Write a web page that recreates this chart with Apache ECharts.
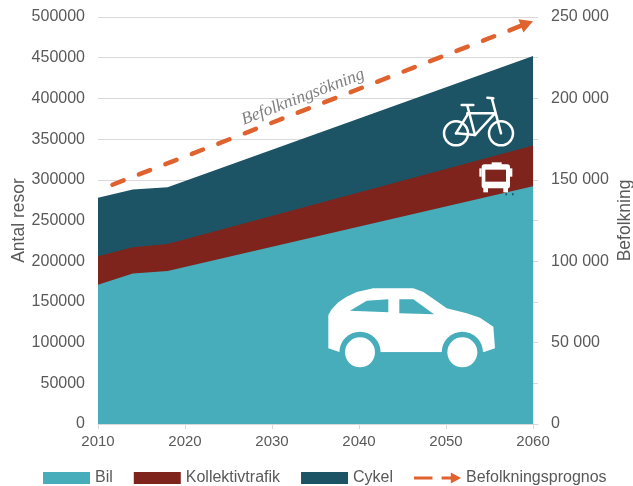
<!DOCTYPE html>
<html><head><meta charset="utf-8">
<script src="https://cdn.jsdelivr.net/npm/echarts@6/dist/echarts.min.js"></script>
<style>html,body{margin:0;padding:0;background:#fff}#c{width:633px;height:486px}</style>
</head><body><div id="c"></div>
<script>
const tickYears = [2010, 2020, 2030, 2040, 2050, 2060];
const years = [2010, 2014, 2018, 2060];
const bil = [171000, 185000, 188000, 292000];
const kollektivtrafik = [35000, 32000, 33000, 50000];
const cykel = [72000, 71000, 70000, 110000];
const popYears = [2010, 2059.3];
const befolkning = [143500, 246000];

const font = '"Liberation Sans", Arial, sans-serif';
const txt = '#595959', grid = '#d9d9d9';
const teal = '#48adbb', red = '#7f241c', dark = '#1d5465', orange = '#e0632f';
const pairs = (xs, ys) => xs.map((x, i) => [x, ys[i]]);
const add = (a, b) => a.map((v, i) => v + b[i]);

// stacked tops, drawn back to front
const topBil = bil;
const topKoll = add(topBil, kollektivtrafik);
const topCykel = add(topKoll, cykel);

function area(name, vals, color, z) {
  return { name, type: 'line', data: pairs(years, vals), symbol: 'none', z,
    lineStyle: { width: 0 }, areaStyle: { color, opacity: 1 }, itemStyle: { color } };
}
const w = { fill: '#fff' };
const bikeStroke = { stroke: '#fff', lineWidth: 7.5, fill: null, lineCap: 'round' };
const Z = 20;
const el = (type, shape, style) => ({ type, shape, style, z: Z });
const seg = pts => el('polyline', { points: pts }, bikeStroke);
const circle = (cx, cy, r, style) => el('circle', { cx, cy, r }, style);
const box = (x, y, width, height, style, r) => el('rect', { x, y, width, height, r: r || 0 }, style);
const poly = (points, style) => el('polygon', { points }, style);

const chart = echarts.init(document.getElementById('c'), null, { renderer: 'canvas' });
chart.setOption({
  animation: false,
  backgroundColor: '#fff',
  grid: { left: 98, right: 95, top: 17, bottom: 62, outerBoundsMode: 'none' },
  legend: {
    bottom: -5, left: 38, itemWidth: 47, itemHeight: 12, itemGap: 21,
    textStyle: { color: txt, fontFamily: font, fontSize: 16 },
    data: [{ name: 'Bil', icon: 'rect' }, { name: 'Kollektivtrafik', icon: 'rect' }, { name: 'Cykel', icon: 'rect' },
      { name: 'Befolkningsprognos', icon: 'path://M0 4.5H18V7.5H0ZM27 4.5H36V0.5L46 6L36 11.5V7.5H27Z', itemStyle: { color: orange } }]
  },
  xAxis: {
    type: 'value', min: 2010, max: 2060.57, splitLine: { show: false },
    axisLine: { lineStyle: { color: grid } },
    axisTick: { length: 5, lineStyle: { color: grid }, customValues: tickYears },
    axisLabel: { color: txt, fontFamily: font, fontSize: 15, margin: 10, customValues: tickYears, formatter: v => String(v) }
  },
  yAxis: [
    { type: 'value', min: 0, max: 500000, interval: 50000, name: 'Antal resor', nameLocation: 'middle', nameGap: 70, nameMoveOverlap: false,
      nameTextStyle: { color: txt, fontFamily: font, fontSize: 17.5 },
      axisLine: { show: false }, axisTick: { show: false },
      splitLine: { lineStyle: { color: grid, width: 1 } },
      axisLabel: { color: txt, fontFamily: font, fontSize: 16, margin: 13, formatter: v => String(v) } },
    { type: 'value', min: 0, max: 250000, interval: 50000, position: 'right', name: 'Befolkning', nameLocation: 'middle', nameGap: 78, nameMoveOverlap: false,
      nameRotate: 90, nameTextStyle: { color: txt, fontFamily: font, fontSize: 17.5 },
      axisLine: { show: false }, axisTick: { show: false }, splitLine: { show: false },
      axisLabel: { color: txt, fontFamily: font, fontSize: 16, margin: 13,
        formatter: v => v === 0 ? '0' : String(v).replace(/(\d)(\d{3})$/, '$1 $2') } }
  ],
  series: [
    area('Cykel', topCykel, dark, 2),
    area('Kollektivtrafik', topKoll, red, 3),
    area('Bil', topBil, teal, 4),
    { name: 'Befolkningsprognos', type: 'line', yAxisIndex: 1, z: 5, showAllSymbol: true,
      data: pairs(popYears, befolkning).map((p, i) => i === popYears.length - 1
        ? { value: p, symbol: 'triangle', symbolSize: [14, 13], symbolRotate: -69 }
        : { value: p, symbol: 'none' }),
      lineStyle: { color: orange, width: 4.5, type: [12, 16.4], dashOffset: 12.9, cap: 'round' },
      itemStyle: { color: orange } }
  ],
  graphic: [
    { type: 'text', x: 303, y: 97, rotation: 21 * Math.PI / 180, z: Z,
      style: { text: 'Befolkningsökning', fill: '#7f7f7f', font: 'italic 17.5px "Liberation Serif", serif', align: 'center', verticalAlign: 'middle' } },
    // car icon
    { type: 'group', x: 310, y: 270, scaleX: 1 / 3, scaleY: 1 / 3, children: [
      poly([[55,135],[65,118],[85,97],[110,80],[140,66],[190,55],[310,55],[340,66],[375,90],[410,115],[470,130],[510,143],[550,170],[555,235],[520,247],[90,247],[55,235]], w),
      circle(150, 247, 62, { fill: teal }),
      circle(457, 247, 62, { fill: teal }),
      box(80, 247, 450, 70, { fill: teal }),
      circle(150, 247, 45, w),
      circle(457, 247, 45, w),
      poly([[120,122],[170,92],[235,88],[235,127]], { fill: teal }),
      poly([[268,88],[310,88],[372,133],[268,130]], { fill: teal })
    ] },
    // bicycle icon
    { type: 'group', x: 430, y: 85, scaleX: 1 / 3, scaleY: 1 / 3, children: [
      circle(78, 145, 36, bikeStroke),
      circle(213, 145, 36, bikeStroke),
      seg([[95,60],[130,60]]), seg([[112,62],[135,150]]), seg([[112,85],[192,85]]),
      seg([[192,88],[135,150]]), seg([[78,145],[135,150]]), seg([[78,145],[115,85]]),
      seg([[186,42],[213,145]]), seg([[172,38],[190,40]])
    ] },
    // bus icon
    { type: 'group', x: 430, y: 85, scaleX: 1 / 3, scaleY: 1 / 3, children: [
      box(155, 238, 85, 72, w, 8),
      box(185, 232, 30, 8, w),
      box(148, 250, 7, 25, w),
      box(240, 250, 7, 25, w),
      box(160, 308, 14, 14, w),
      box(220, 308, 14, 14, w),
      box(166, 254, 62, 36, { fill: red }),
      box(226, 325, 5, 6, { fill: dark }),
      box(246, 325, 5, 6, { fill: dark })
    ] }
  ]
});
</script></body></html>
